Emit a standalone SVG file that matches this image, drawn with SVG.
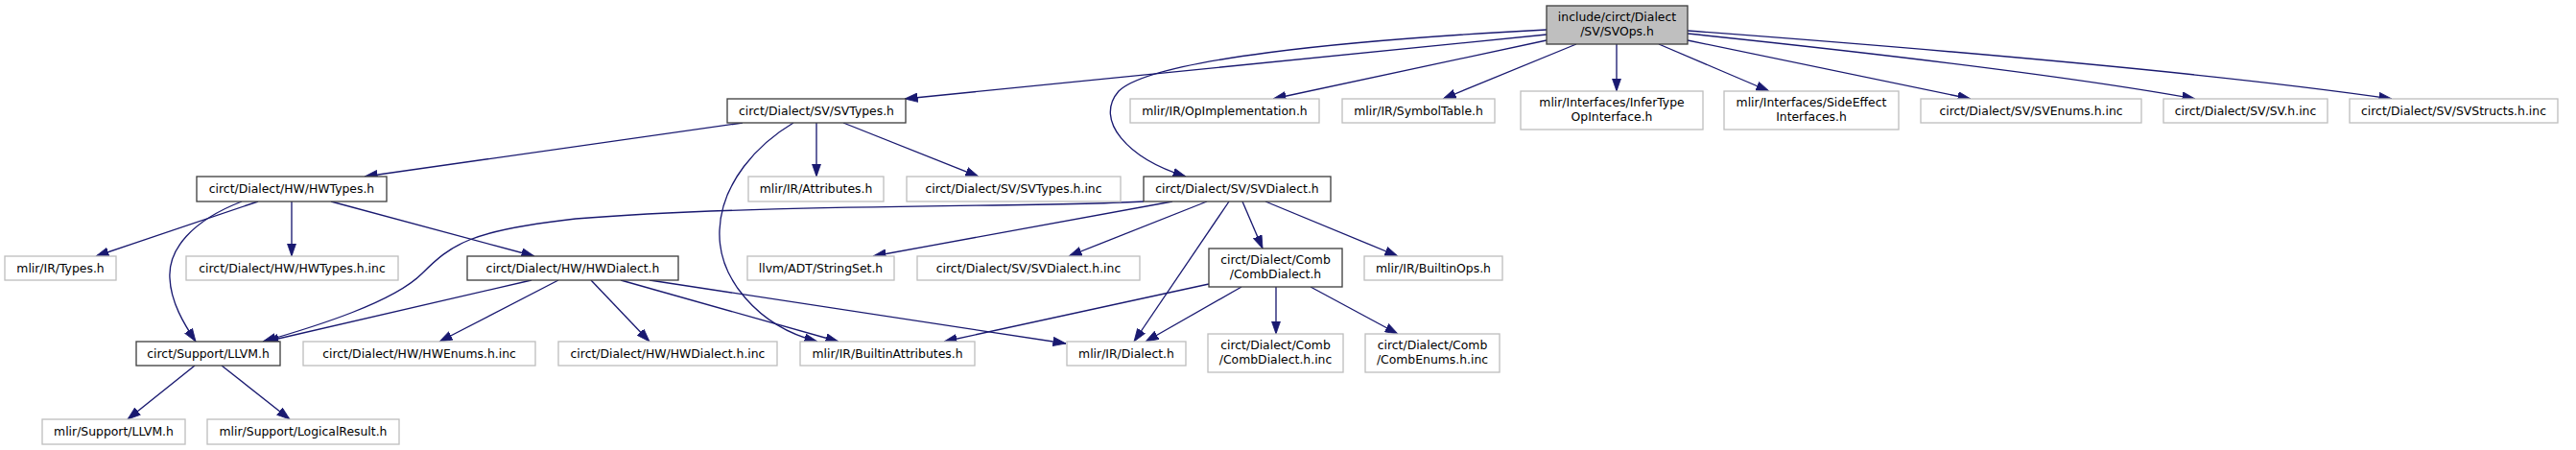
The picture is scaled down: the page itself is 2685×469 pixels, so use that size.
<svg xmlns="http://www.w3.org/2000/svg" width="2685" height="469" viewBox="0 0 2685 469">
<defs>
<marker id="ah" markerUnits="userSpaceOnUse" markerWidth="14" markerHeight="10" viewBox="0 0 14 10" refX="13.5" refY="5" orient="auto">
<path d="M0,0.3 L13.5,5 L0,9.7 z" fill="#191970" stroke="#191970" stroke-width="0.8"/>
</marker>
</defs>
<style>
rect{stroke-width:1.33}
.b rect{fill:#ffffff;stroke:#404040}
.g rect{fill:#ffffff;stroke:#bfbfbf}
.r rect{fill:#bfbfbf;stroke:#404040}
text{font-family:"DejaVu Sans","Liberation Sans",sans-serif;font-size:12.4px;fill:#000;text-anchor:middle}
#edges path{fill:none;stroke:#191970;stroke-width:1.33;marker-end:url(#ah)}
</style>
<rect x="0" y="0" width="2685" height="469" fill="#ffffff"/>
<g id="edges">
<path d="M1612,36 L943,103"/>
<path d="M1612,31 C1400,42 1200,62 1166,95 C1140,125 1175,165 1236,184"/>
<path d="M1612,42 L1327,103"/>
<path d="M1643,46 L1504,103"/>
<path d="M1685,46 L1685,95"/>
<path d="M1729,46 L1844,95"/>
<path d="M1759,42 L2054,103"/>
<path d="M1759,35 C1950,55 2150,78 2288,103"/>
<path d="M1759,32 C2000,50 2300,75 2493,103"/>
<path d="M774,128 L380,184"/>
<path d="M851,128 L851,184"/>
<path d="M879,128 L1020,184"/>
<path d="M827,128 C790,150 752,190 750,240 C748,290 790,340 852,356"/>
<path d="M269,210 L100,267"/>
<path d="M304,210 L304,267"/>
<path d="M252,210 C200,230 175,260 177,290 C178,315 192,338 204,356"/>
<path d="M345,210 L557,267"/>
<path d="M1192,210 C1100,216 800,212 600,228 C490,240 470,255 440,285 C410,315 330,340 274,356"/>
<path d="M1222,210 L910,267"/>
<path d="M1258,210 L1114,267"/>
<path d="M1281,210 L1182,356"/>
<path d="M1295,210 L1316,259"/>
<path d="M1319,210 L1457,267"/>
<path d="M554,292 L277,356"/>
<path d="M582,292 L458,356"/>
<path d="M616,292 L677,356"/>
<path d="M647,292 L874,356"/>
<path d="M677,292 L1111,358"/>
<path d="M1260,296 L984,356"/>
<path d="M1294,299 L1194,356"/>
<path d="M1330,299 L1330,348"/>
<path d="M1366,299 L1457,348"/>
<path d="M203,381 L133,437"/>
<path d="M231,381 L302,437"/>
</g>
<g id="n_svops" class="r"><rect x="1612" y="6" width="147" height="40"/><text x="1685.5" y="22">include/circt/Dialect</text><text x="1685.5" y="37">/SV/SVOps.h</text></g>
<g id="n_svtypes" class="b"><rect x="758" y="103" width="186" height="25"/><text x="851" y="120">circt/Dialect/SV/SVTypes.h</text></g>
<g id="n_opimpl" class="g"><rect x="1178" y="103" width="197" height="25"/><text x="1276.5" y="120">mlir/IR/OpImplementation.h</text></g>
<g id="n_symtab" class="g"><rect x="1399" y="103" width="159" height="25"/><text x="1478.5" y="120">mlir/IR/SymbolTable.h</text></g>
<g id="n_infertype" class="g"><rect x="1585" y="95" width="190" height="40"/><text x="1680" y="111">mlir/Interfaces/InferType</text><text x="1680" y="126">OpInterface.h</text></g>
<g id="n_sideeffect" class="g"><rect x="1797" y="95" width="182" height="40"/><text x="1888" y="111">mlir/Interfaces/SideEffect</text><text x="1888" y="126">Interfaces.h</text></g>
<g id="n_svenums" class="g"><rect x="2002" y="103" width="230" height="25"/><text x="2117" y="120">circt/Dialect/SV/SVEnums.h.inc</text></g>
<g id="n_svhinc" class="g"><rect x="2255" y="103" width="171" height="25"/><text x="2340.5" y="120">circt/Dialect/SV/SV.h.inc</text></g>
<g id="n_svstructs" class="g"><rect x="2449" y="103" width="217" height="25"/><text x="2557.5" y="120">circt/Dialect/SV/SVStructs.h.inc</text></g>
<g id="n_hwtypes" class="b"><rect x="205" y="184" width="198" height="26"/><text x="304" y="201">circt/Dialect/HW/HWTypes.h</text></g>
<g id="n_attributes" class="g"><rect x="780" y="184" width="141" height="26"/><text x="850.5" y="201">mlir/IR/Attributes.h</text></g>
<g id="n_svtypesinc" class="g"><rect x="945" y="184" width="223" height="26"/><text x="1056.5" y="201">circt/Dialect/SV/SVTypes.h.inc</text></g>
<g id="n_svdialect" class="b"><rect x="1192" y="184" width="195" height="26"/><text x="1289.5" y="201">circt/Dialect/SV/SVDialect.h</text></g>
<g id="n_types" class="g"><rect x="5" y="267" width="116" height="25"/><text x="63" y="284">mlir/IR/Types.h</text></g>
<g id="n_hwtypesinc" class="g"><rect x="194" y="267" width="221" height="25"/><text x="304.5" y="284">circt/Dialect/HW/HWTypes.h.inc</text></g>
<g id="n_hwdialect" class="b"><rect x="487" y="267" width="220" height="25"/><text x="597" y="284">circt/Dialect/HW/HWDialect.h</text></g>
<g id="n_stringset" class="g"><rect x="779" y="267" width="153" height="25"/><text x="855.5" y="284">llvm/ADT/StringSet.h</text></g>
<g id="n_svdialectinc" class="g"><rect x="956" y="267" width="232" height="25"/><text x="1072" y="284">circt/Dialect/SV/SVDialect.h.inc</text></g>
<g id="n_combdialect" class="b"><rect x="1260" y="259" width="139" height="40"/><text x="1329.5" y="275">circt/Dialect/Comb</text><text x="1329.5" y="290">/CombDialect.h</text></g>
<g id="n_builtinops" class="g"><rect x="1422" y="267" width="144" height="25"/><text x="1494" y="284">mlir/IR/BuiltinOps.h</text></g>
<g id="n_llvm" class="b"><rect x="142" y="356" width="150" height="25"/><text x="217" y="373">circt/Support/LLVM.h</text></g>
<g id="n_hwenums" class="g"><rect x="316" y="356" width="242" height="25"/><text x="437" y="373">circt/Dialect/HW/HWEnums.h.inc</text></g>
<g id="n_hwdialectinc" class="g"><rect x="582" y="356" width="228" height="25"/><text x="696" y="373">circt/Dialect/HW/HWDialect.h.inc</text></g>
<g id="n_builtinattr" class="g"><rect x="834" y="356" width="182" height="25"/><text x="925" y="373">mlir/IR/BuiltinAttributes.h</text></g>
<g id="n_dialect" class="g"><rect x="1112" y="356" width="124" height="25"/><text x="1174" y="373">mlir/IR/Dialect.h</text></g>
<g id="n_combdialectinc" class="g"><rect x="1259" y="348" width="141" height="40"/><text x="1329.5" y="364">circt/Dialect/Comb</text><text x="1329.5" y="379">/CombDialect.h.inc</text></g>
<g id="n_combenums" class="g"><rect x="1423" y="348" width="140" height="40"/><text x="1493" y="364">circt/Dialect/Comb</text><text x="1493" y="379">/CombEnums.h.inc</text></g>
<g id="n_mlirllvm" class="g"><rect x="44" y="437" width="149" height="26"/><text x="118.5" y="454">mlir/Support/LLVM.h</text></g>
<g id="n_logicalresult" class="g"><rect x="216" y="437" width="200" height="26"/><text x="316" y="454">mlir/Support/LogicalResult.h</text></g>
</svg>
